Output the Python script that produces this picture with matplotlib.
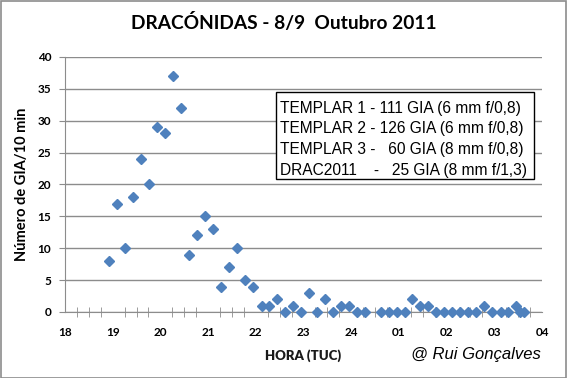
import numpy as np
import matplotlib
matplotlib.use("Agg")
import matplotlib.pyplot as plt
from matplotlib.patches import Rectangle

# Hour of observation (values past 24 are after midnight)
horas = [18.93, 19.10, 19.26, 19.43, 19.60, 19.77, 19.93, 20.10, 20.27, 20.44,
         20.61, 20.77, 20.94, 21.11, 21.28, 21.44, 21.61, 21.78, 21.95, 22.12,
         22.28, 22.45, 22.62, 22.79, 22.95, 23.12, 23.28, 23.45, 23.61, 23.78,
         23.96, 24.12, 24.28, 24.62, 24.79, 24.95, 25.12, 25.28, 25.45, 25.62,
         25.78, 25.95, 26.12, 26.29, 26.45, 26.62, 26.79, 26.96, 27.13, 27.29,
         27.46, 27.54, 27.62]
# Meteors (GIA) per 10 min
gia = [8, 17, 10, 18, 24, 20, 29, 28, 37, 32,
       9, 12, 15, 13, 4, 7, 10, 5, 4, 1,
       1, 2, 0, 1, 0, 3, 0, 2, 0, 1,
       1, 0, 0, 0, 0, 0, 0, 2, 1, 1,
       0, 0, 0, 0, 0, 0, 1, 0, 0, 0,
       1, 0, 0]

tick_pos = [18, 19, 20, 21, 22, 23, 24, 25, 26, 27, 28]
tick_lab = ["18", "19", "20", "21", "22", "23", "24", "01", "02", "03", "04"]

legenda = ["TEMPLAR 1 - 111 GIA (6 mm f/0,8)",
           "TEMPLAR 2 - 126 GIA (6 mm f/0,8)",
           "TEMPLAR 3 -   60 GIA (8 mm f/0,8)",
           "DRAC2011    -   25 GIA (8 mm f/1,3)"]

fig = plt.figure(figsize=(5.67, 3.78), dpi=100)
ax = fig.add_axes([65/567, 1-312/378, 477/567, 255/378])

ax.plot(horas, gia, linestyle="none", marker="D", markersize=5.5,
        color="#4F81BD", markeredgecolor="#4F81BD", clip_on=False, zorder=3)

ax.set_xlim(18, 28)
ax.set_ylim(0, 40)
ax.set_yticks(np.arange(0, 41, 5))
ax.set_xticks(tick_pos)
ax.set_xticklabels(tick_lab)
ax.set_xticks(np.arange(18, 28.01, 0.25), minor=True)
ax.yaxis.grid(True, color="#8c8c8c", linewidth=1)
ax.set_axisbelow(True)
for s in ["top", "right"]:
    ax.spines[s].set_visible(False)
ax.spines["left"].set_color("#8c8c8c")
ax.spines["bottom"].set_color("#8c8c8c")
ax.tick_params(axis="x", which="both", direction="inout", length=7, color="#8c8c8c",
               labelsize=8.5, pad=11)
ax.tick_params(axis="x", which="major", length=0)
ax.tick_params(axis="y", direction="out", length=4, color="#8c8c8c", labelsize=8.5, pad=6)
for lab in ax.get_xticklabels() + ax.get_yticklabels():
    lab.set_fontfamily("Lato")
    lab.set_fontweight("bold")

ax.set_xlabel("HORA (TUC)", fontfamily="Lato", fontweight="heavy", fontsize=9.5,
              color="#1a1a1a", labelpad=8)
ax.set_ylabel("Número de GIA/10 min", fontfamily="Lato", fontweight="bold",
              fontsize=10.5, labelpad=6)

fig.text(0.5, 1-22/378, "DRACÓNIDAS - 8/9  Outubro 2011", ha="center", va="center",
         fontfamily="Lato", fontweight="bold", fontsize=13.8)

# text box with camera totals
box = Rectangle((276/567, 1-179/378), 258/567, 87/378, transform=fig.transFigure,
                facecolor="white", edgecolor="black", linewidth=1, zorder=5)
fig.patches.append(box)
for i, t in enumerate(legenda):
    fig.text(280/567, 1-(108+21*i)/378, t, ha="left", va="center",
             fontfamily="Liberation Sans", fontsize=11.2, zorder=6)

fig.text(411/567, 1-355/378, "@ Rui Gonçalves", ha="left", va="center",
         fontfamily="Liberation Sans", fontstyle="italic", fontsize=12)

# outer frame
frame = Rectangle((0.5/567, 0.5/378), 1-1.5/567, 1-1.5/378, transform=fig.transFigure,
                  facecolor="none", edgecolor="#8c8c8c", linewidth=1.2)
fig.patches.append(frame)

fig.savefig("out.png", dpi=100)
